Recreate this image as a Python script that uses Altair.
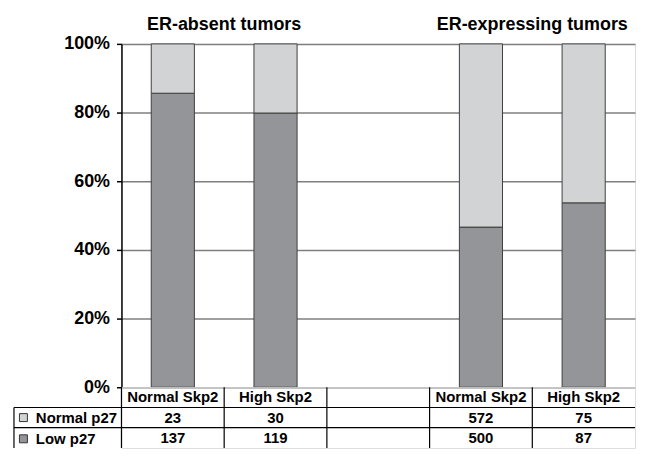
import altair as alt
import pandas as pd

# ---------------- data ----------------
column_keys = ["absent_normal", "absent_high", "gap", "expr_normal", "expr_high"]
column_labels = ["Normal Skp2", "High Skp2", "", "Normal Skp2", "High Skp2"]
title_keys = ["absent_normal", "expr_normal"]
title_texts = ["ER-absent tumors", "ER-expressing tumors"]
series = ["Normal p27", "Low p27"]
series_colors = ["#d1d3d4", "#939598"]
normal_p27 = [23, 30, None, 572, 75]
low_p27 = [137, 119, None, 500, 87]
percent_ticks = [0, 0.2, 0.4, 0.6, 0.8, 1.0]
table_rows = ["header", "Normal p27", "Low p27"]

FONT = "Liberation Sans"
PLOT_W = 516
BAR_H = 345
TABLE_H = 61
LEFT_COL = 108

# ---------------- tables built from the arrays ----------------
bar_records = []
for k, n, l in zip(column_keys, normal_p27, low_p27):
    if n is None:
        continue
    bar_records.append({"key": k, "series": "Low p27", "count": l, "stack_order": 0})
    bar_records.append({"key": k, "series": "Normal p27", "count": n, "stack_order": 1})
bar_df = pd.DataFrame(bar_records)

table_records = []
for k, lab, n, l in zip(column_keys, column_labels, normal_p27, low_p27):
    table_records.append({"key": k, "row": "header", "text": lab})
    table_records.append({"key": k, "row": "Normal p27", "text": "" if n is None else str(n)})
    table_records.append({"key": k, "row": "Low p27", "text": "" if l is None else str(l)})
table_df = pd.DataFrame(table_records)

legend_df = pd.DataFrame({"key": [column_keys[0]] * 2, "row": series, "series": series})
vline_df = pd.DataFrame({"key": column_keys})
hline_df = pd.DataFrame({"row": series})
border_df = pd.DataFrame({"row": [series[0]]})

title_expr = "".join(
    f"datum.value === '{k}' ? '{t}' : " for k, t in zip(title_keys, title_texts)
) + "''"

x_scale = alt.Scale(domain=column_keys, paddingInner=0, paddingOuter=0)
row_scale = alt.Scale(domain=table_rows, paddingInner=0, paddingOuter=0)
color_scale = alt.Scale(domain=series, range=series_colors)
half_band = PLOT_W / len(column_keys) / 2

# ---------------- stacked 100% bars ----------------
bars = alt.Chart(bar_df).mark_bar(
    width={"band": 0.42}, stroke="#404040", strokeWidth=1
).encode(
    x=alt.X(
        "key:N", scale=x_scale,
        axis=alt.Axis(
            orient="top", title=None, labelExpr=title_expr, labelOffset=half_band,
            ticks=False, domain=False, labelAngle=0, labelFont=FONT,
            labelFontSize=18, labelFontWeight="bold", labelColor="black",
            labelPadding=10, labelLimit=0,
        ),
    ),
    y=alt.Y(
        "count:Q", stack="normalize",
        scale=alt.Scale(domain=[0, 1], nice=False),
        axis=alt.Axis(
            values=percent_ticks, format=".0%", title=None, labelFont=FONT,
            labelFontSize=18, labelFontWeight="bold", labelColor="black",
            labelPadding=7, tickSize=5, tickColor="black", tickWidth=1.5,
            domainColor="black", domainWidth=1.5, grid=True,
            gridColor="#7f7f7f", gridWidth=1.5,
        ),
    ),
    color=alt.Color("series:N", scale=color_scale, legend=None),
    order=alt.Order("stack_order:Q"),
).properties(width=PLOT_W, height=BAR_H)

# ---------------- data table under the bars ----------------
cells = alt.Chart(table_df).mark_text(
    font=FONT, fontSize=15, fontWeight="bold", color="black"
).encode(
    x=alt.X("key:N", scale=x_scale, axis=None),
    y=alt.Y("row:N", scale=row_scale, axis=None),
    text="text:N",
)

vlines = alt.Chart(vline_df).mark_rule(color="black", strokeWidth=1.2).encode(
    x=alt.X(
        "key:N", bandPosition=0, scale=x_scale,
        axis=alt.Axis(orient="top", title=None, labels=False, ticks=False, grid=False,
                      domainColor="black", domainWidth=3),
    ),
)

hlines = alt.Chart(hline_df).mark_rule(color="black", strokeWidth=1.2).encode(
    y=alt.Y("row:N", bandPosition=0, scale=row_scale, axis=None),
    x=alt.value(-LEFT_COL),
    x2=alt.value(PLOT_W),
)

left_border = alt.Chart(border_df).mark_rule(color="black", strokeWidth=1.2).encode(
    x=alt.value(-LEFT_COL),
    y=alt.Y("row:N", bandPosition=0, scale=row_scale, axis=None),
    y2=alt.value(TABLE_H),
)

legend_layer = alt.Chart(legend_df).mark_point(
    shape="square", filled=True, opacity=0
).encode(
    x=alt.X("key:N", scale=x_scale, axis=None),
    y=alt.Y("row:N", scale=row_scale, axis=None),
    color=alt.Color(
        "series:N", scale=color_scale,
        legend=alt.Legend(
            orient="none", legendX=-106, legendY=23, title=None,
            symbolType="square", symbolSize=64, symbolStrokeColor="#333333",
            symbolStrokeWidth=1, symbolOpacity=1, labelFont=FONT,
            labelFontSize=15, labelFontWeight="bold", labelColor="black",
            labelOffset=5, rowPadding=5.3, padding=0,
        ),
    ),
)

table = alt.layer(vlines, hlines, left_border, cells, legend_layer).properties(
    width=PLOT_W, height=TABLE_H
)

chart = alt.vconcat(bars, table, spacing=0, bounds="flush").resolve_scale(
    color="independent"
).properties(
    padding={"left": 4, "top": 6, "right": 0, "bottom": 0}
).configure_view(stroke=None).configure(font=FONT)

chart.save("out.html", embed_options={"renderer": "svg", "actions": False})
